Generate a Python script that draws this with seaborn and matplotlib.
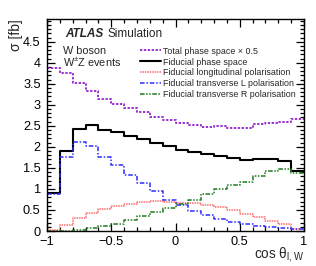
import numpy as np
import matplotlib
matplotlib.use("Agg")
import matplotlib.pyplot as plt
from matplotlib.ticker import MultipleLocator, FixedLocator, FuncFormatter
import seaborn as sns

# 20 bins in cos(theta_lW) from -1 to 1
bin_edges = np.linspace(-1, 1, 21)

total_half = [3.87, 3.75, 3.52, 3.33, 3.14, 3.02, 2.93, 2.83, 2.71, 2.64,
              2.56, 2.52, 2.47, 2.50, 2.46, 2.46, 2.55, 2.56, 2.60, 2.66]
fiducial = [0.90, 1.91, 2.42, 2.51, 2.40, 2.35, 2.27, 2.18, 2.09, 2.01,
            1.93, 1.87, 1.83, 1.79, 1.74, 1.69, 1.72, 1.70, 1.66, 1.42]
longitudinal = [0.03, 0.14, 0.30, 0.42, 0.52, 0.59, 0.64, 0.68, 0.71, 0.70,
                0.67, 0.66, 0.62, 0.56, 0.50, 0.40, 0.34, 0.24, 0.16, 0.05]
transverse_l = [0.87, 1.75, 2.11, 2.03, 1.77, 1.57, 1.33, 1.13, 0.94, 0.74,
                0.62, 0.48, 0.37, 0.28, 0.21, 0.16, 0.12, 0.09, 0.06, 0.04]
transverse_r = [0.00, 0.01, 0.03, 0.07, 0.12, 0.17, 0.25, 0.35, 0.44, 0.54,
                0.64, 0.74, 0.87, 1.00, 1.10, 1.17, 1.31, 1.43, 1.48, 1.38]

labels = ["Total phase space \u00d7 0.5",
          "Fiducial phase space",
          "Fiducial longitudinal polarisation",
          "Fiducial transverse L polarisation",
          "Fiducial transverse R polarisation"]

sns.set_style("ticks")
plt.rcParams["font.family"] = ["Liberation Sans", "DejaVu Sans"]
plt.rcParams["mathtext.fontset"] = "custom"
plt.rcParams["mathtext.rm"] = "Liberation Sans"
plt.rcParams["mathtext.it"] = "Liberation Sans:italic"

fig = plt.figure(figsize=(3.16, 2.66), dpi=100)
ax = fig.add_axes([47 / 316, 35 / 266, 257 / 316, 212 / 266])

styles = [
    (total_half, dict(color="#9a32d2", linewidth=1.4, linestyle=(0, (1.2, 0.8)))),
    (fiducial, dict(color="black", linewidth=1.5, linestyle="-")),
    (longitudinal, dict(color="#ff6e6e", linewidth=1.1, linestyle=(0, (1.0, 0.6)))),
    (transverse_l, dict(color="#2b2bff", linewidth=1.1, linestyle=(0, (3.0, 1.2, 1.0, 1.2)))),
    (transverse_r, dict(color="#1f7a1f", linewidth=1.1,
                        linestyle=(0, (3.0, 1.0, 1.0, 1.0, 1.0, 1.0)))),
]
for vals, kw in styles:
    # repeat last value so steps-post closes the final bin at x = 1
    sns.lineplot(x=bin_edges, y=np.append(vals, vals[-1]), drawstyle="steps-post",
                 ax=ax, **kw)

ax.set_xlim(-1, 1)
ax.set_ylim(0, 5.04)

fmt = FuncFormatter(lambda v, p: f"{v:g}".replace("-", "\u2212"))
ax.xaxis.set_major_locator(MultipleLocator(0.5))
ax.xaxis.set_minor_locator(MultipleLocator(0.1))
ax.yaxis.set_major_locator(FixedLocator(np.arange(0, 4.51, 0.5)))
ax.yaxis.set_minor_locator(MultipleLocator(0.1))
ax.xaxis.set_major_formatter(fmt)
ax.yaxis.set_major_formatter(fmt)
ax.tick_params(which="both", direction="in", top=True, right=True,
               colors="black", width=0.9)
ax.tick_params(which="major", length=6, labelsize=9.2)
ax.tick_params(axis="x", which="major", pad=3.5)
ax.tick_params(axis="y", which="major", pad=4.5)
ax.tick_params(which="minor", length=3)
for s in ax.spines.values():
    s.set_linewidth(1.0)
    s.set_color("black")

ax.set_xlabel("cos \u03b8$_{\\mathrm{l,W}}$", fontsize=9.8, loc="right")
# fixed baseline position so the subscript stays inside the canvas
ax.xaxis.set_label_coords(1.0, -27 / 212)
ax.xaxis.label.set_va("baseline")
ax.set_ylabel("\u03c3 [fb]", fontsize=10, loc="top", labelpad=0)

ax.text(0.070, 0.93, "ATLAS", transform=ax.transAxes, fontsize=8.5,
        fontweight="bold", style="italic", va="center")
ax.text(0.236, 0.93, "Simulation", transform=ax.transAxes, fontsize=8.5, va="center")
ax.text(0.062, 0.85, "W boson", transform=ax.transAxes, fontsize=7.8, va="center")
ax.text(0.062, 0.793, "W$^{\\pm}$Z events", transform=ax.transAxes, fontsize=7.8, va="center")

ax.legend(handles=ax.lines[:5], labels=labels, loc="upper left",
          bbox_to_anchor=(0.362, 0.87), frameon=False, fontsize=6.4,
          handlelength=2.4, handletextpad=0.2, labelspacing=0.22,
          borderpad=0, borderaxespad=0)

fig.savefig("out.png", dpi=100)
